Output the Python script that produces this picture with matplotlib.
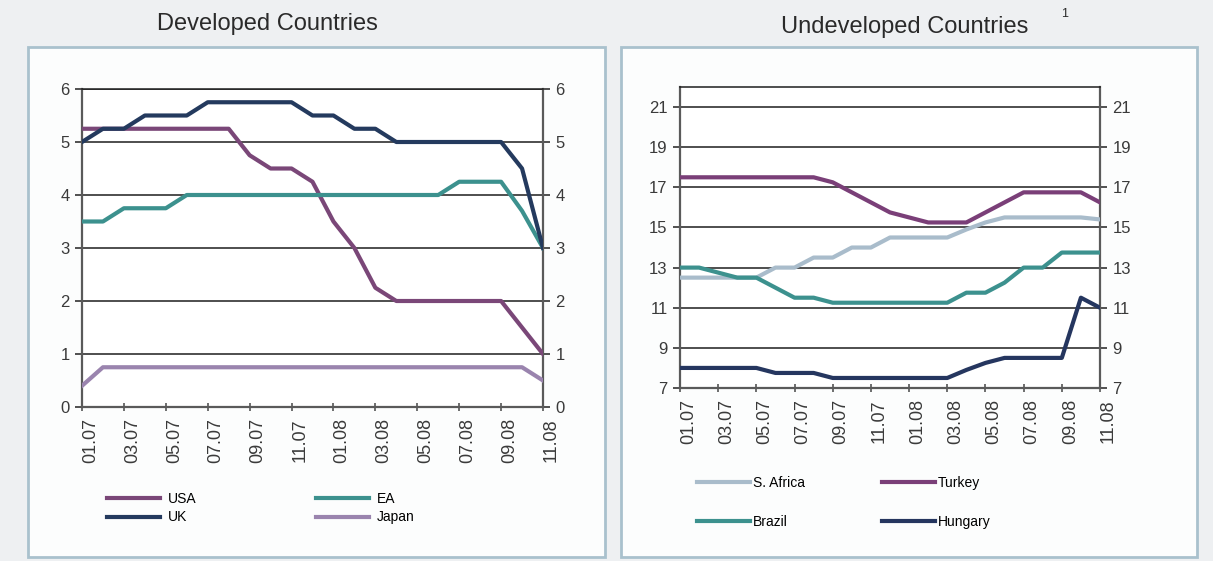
import matplotlib
matplotlib.use("Agg")
import matplotlib.pyplot as plt
from matplotlib.patches import Rectangle

# ---------------- data ----------------
months = ["01.07", "02.07", "03.07", "04.07", "05.07", "06.07", "07.07", "08.07",
          "09.07", "10.07", "11.07", "12.07", "01.08", "02.08", "03.08", "04.08",
          "05.08", "06.08", "07.08", "08.08", "09.08", "10.08", "11.08"]
tick_labels = ["01.07", "03.07", "05.07", "07.07", "09.07", "11.07",
               "01.08", "03.08", "05.08", "07.08", "09.08", "11.08"]

usa = [5.25, 5.25, 5.25, 5.25, 5.25, 5.25, 5.25, 5.25, 4.75, 4.5, 4.5, 4.25,
       3.5, 3.0, 2.25, 2.0, 2.0, 2.0, 2.0, 2.0, 2.0, 1.5, 1.0]
uk = [5.0, 5.25, 5.25, 5.5, 5.5, 5.5, 5.75, 5.75, 5.75, 5.75, 5.75, 5.5,
      5.5, 5.25, 5.25, 5.0, 5.0, 5.0, 5.0, 5.0, 5.0, 4.5, 3.0]
ea = [3.5, 3.5, 3.75, 3.75, 3.75, 4.0, 4.0, 4.0, 4.0, 4.0, 4.0, 4.0,
      4.0, 4.0, 4.0, 4.0, 4.0, 4.0, 4.25, 4.25, 4.25, 3.7, 3.0]
japan = [0.4, 0.75, 0.75, 0.75, 0.75, 0.75, 0.75, 0.75, 0.75, 0.75, 0.75, 0.75,
         0.75, 0.75, 0.75, 0.75, 0.75, 0.75, 0.75, 0.75, 0.75, 0.75, 0.5]

s_africa = [12.5, 12.5, 12.5, 12.5, 12.5, 13.0, 13.0, 13.5, 13.5, 14.0, 14.0, 14.5,
            14.5, 14.5, 14.5, 14.9, 15.25, 15.5, 15.5, 15.5, 15.5, 15.5, 15.4]
turkey = [17.5, 17.5, 17.5, 17.5, 17.5, 17.5, 17.5, 17.5, 17.25, 16.75, 16.25, 15.75,
          15.5, 15.25, 15.25, 15.25, 15.75, 16.25, 16.75, 16.75, 16.75, 16.75, 16.25]
brazil = [13.0, 13.0, 12.75, 12.5, 12.5, 12.0, 11.5, 11.5, 11.25, 11.25, 11.25, 11.25,
          11.25, 11.25, 11.25, 11.75, 11.75, 12.25, 13.0, 13.0, 13.75, 13.75, 13.75]
hungary = [8.0, 8.0, 8.0, 8.0, 8.0, 7.75, 7.75, 7.75, 7.5, 7.5, 7.5, 7.5,
           7.5, 7.5, 7.5, 7.9, 8.25, 8.5, 8.5, 8.5, 8.5, 11.5, 11.0]

left_yticks = [0, 1, 2, 3, 4, 5, 6]
right_yticks = [7, 9, 11, 13, 15, 17, 19, 21]

# ---------------- style ----------------
FONT = ["Liberation Sans", "DejaVu Sans"]
plt.rcParams["font.family"] = FONT

C_USA = "#7a4778"
C_UK = "#243a5e"
C_EA = "#3c918e"
C_JAPAN = "#9a84ae"
C_SAF = "#a9bccb"
C_TUR = "#7a3f78"
C_BRA = "#3c918e"
C_HUN = "#25365f"

W, H = 1213, 561
fig = plt.figure(figsize=(W / 100, H / 100), dpi=100)
fig.patch.set_facecolor("#eef0f2")


def fx(px):
    return px / W


def fy(py):
    return 1 - py / H


# panel boxes
for x0, x1 in [(28, 605), (621, 1197)]:
    fig.patches.append(Rectangle((fx(x0), fy(557)), fx(x1) - fx(x0), fy(47) - fy(557),
                                 transform=fig.transFigure, facecolor="#fcfdfd",
                                 edgecolor="#a9c1cd", linewidth=2.0, zorder=-5))

# titles
fig.text(fx(267), fy(24), "Developed Countries", ha="center", va="center",
         fontsize=17, color="#2a2a2a")
fig.text(fx(905), fy(27), "Undeveloped Countries", ha="center", va="center",
         fontsize=17, color="#2a2a2a")
fig.text(fx(1065), fy(14), "1", ha="center", va="center", fontsize=9, color="#2a2a2a")

x = list(range(len(months)))
tick_pos = [months.index(t) for t in tick_labels]


def style_axes(ax, yticks, ylim):
    ax.set_zorder(2)
    ax.set_facecolor("white")
    ax.set_xlim(0, len(months) - 1)
    ax.set_ylim(*ylim)
    ax.set_yticks(yticks)
    ax.set_yticklabels([str(v) for v in yticks])
    ax.set_xticks(tick_pos)
    ax.set_xticklabels(tick_labels, rotation=90, va="top", ha="left")
    for v in yticks:
        if v != ylim[0]:
            ax.axhline(v, color="#1e1e1e", lw=1.1, zorder=1)
    for s in ["left", "right", "bottom"]:
        ax.spines[s].set_color("#5a5a5a")
        ax.spines[s].set_linewidth(1.6)
    ax.spines["top"].set_color("#1e1e1e")
    ax.spines["top"].set_linewidth(1.1)
    ax.tick_params(axis="y", which="both", left=True, right=True, labelleft=True,
                   labelright=True, direction="out", length=5, width=1.2,
                   colors="#333333", labelsize=12, pad=4, labelcolor="#3a3a3a")
    ax.tick_params(axis="x", direction="inout", length=6, width=1.2, colors="#555555",
                   labelsize=13, pad=5, labelcolor="#3a3a3a")


# ---------------- left chart ----------------
axL = fig.add_axes([fx(82), fy(407), fx(543) - fx(82), fy(89) - fy(407)])
style_axes(axL, left_yticks, (0, 6))
lw = 3.0
axL.plot(x, usa, color=C_USA, lw=lw, label="USA", zorder=3, solid_joinstyle="round")
axL.plot(x, uk, color=C_UK, lw=lw, label="UK", zorder=4, solid_joinstyle="round")
axL.plot(x, ea, color=C_EA, lw=lw, label="EA", zorder=3, solid_joinstyle="round")
axL.plot(x, japan, color=C_JAPAN, lw=lw, label="Japan", zorder=3, solid_joinstyle="round")
h, l = axL.get_legend_handles_labels()
order = [l.index(n) for n in ["USA", "UK", "EA", "Japan"]]
legL = fig.legend([h[i] for i in order], [l[i] for i in order], ncol=2, frameon=False,
                  loc="upper left", bbox_to_anchor=(fx(107), fy(492)),
                  bbox_transform=fig.transFigure, fontsize=10, handlelength=3.8,
                  handletextpad=0.55, columnspacing=8.65, labelspacing=0.32, borderpad=0,
                  borderaxespad=0)
legL.set_zorder(3)

# ---------------- right chart ----------------
axR = fig.add_axes([fx(680), fy(388), fx(1100) - fx(680), fy(87) - fy(388)])
style_axes(axR, right_yticks, (7, 22))
axR.plot(x, s_africa, color=C_SAF, lw=lw, label="S. Africa", zorder=3, solid_joinstyle="round")
axR.plot(x, turkey, color=C_TUR, lw=lw, label="Turkey", zorder=3, solid_joinstyle="round")
axR.plot(x, brazil, color=C_BRA, lw=lw, label="Brazil", zorder=3, solid_joinstyle="round")
axR.plot(x, hungary, color=C_HUN, lw=lw, label="Hungary", zorder=3, solid_joinstyle="round")
h, l = axR.get_legend_handles_labels()
order = [l.index(n) for n in ["S. Africa", "Brazil", "Turkey", "Hungary"]]
legR = fig.legend([h[i] for i in order], [l[i] for i in order], ncol=2, frameon=False,
                  loc="upper left", bbox_to_anchor=(fx(697), fy(476)),
                  bbox_transform=fig.transFigure, fontsize=10, handlelength=3.8,
                  handletextpad=0.2, columnspacing=5.6, labelspacing=1.8, borderpad=0,
                  borderaxespad=0)
legR.set_zorder(3)

fig.savefig("out.png", dpi=100, facecolor=fig.get_facecolor())
